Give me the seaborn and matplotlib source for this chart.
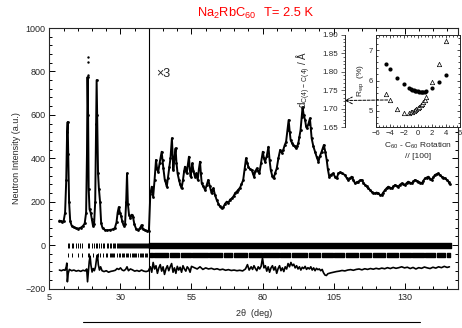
import numpy as np
import pandas as pd
import matplotlib
matplotlib.use("Agg")
import matplotlib.pyplot as plt
from matplotlib.ticker import MultipleLocator, FixedLocator
import seaborn as sns

# ---- values ----
# low angle part of the pattern, raw intensity
tt_lo = [8.5, 9.0, 9.5, 10.0, 10.5, 10.9, 11.2, 11.4, 11.6, 11.9, 12.3, 12.8, 13.5, 14.3,
         15.1, 16.0, 16.8, 17.4, 17.9, 18.2, 18.4, 18.6, 18.8, 19.1, 19.5, 19.9, 20.3, 20.7,
         21.1, 21.4, 21.6, 21.8, 22.1, 22.4, 22.8, 23.2, 23.7, 24.5, 25.4, 26.3, 27.2, 28.0,
         28.6, 29.0, 29.4, 29.8, 30.2, 30.6, 31.1, 31.6, 32.0, 32.3, 32.6, 33.0, 33.5, 34.0,
         34.4, 34.9, 35.5, 36.2, 36.9, 37.4, 37.9, 38.6, 39.3, 40.0]
int_lo = [113, 110, 106, 112, 150, 300, 520, 567, 420, 200, 110, 90, 82, 78,
          76, 80, 88, 100, 150, 420, 774, 600, 260, 165, 150, 120, 90, 95,
          200, 560, 760, 600, 330, 260, 200, 100, 78, 70, 68, 70, 72, 78,
          105, 150, 175, 150, 135, 110, 90, 95, 200, 330, 190, 140, 125, 140,
          130, 95, 75, 70, 78, 92, 75, 68, 66, 65]

# high angle part, already multiplied by 3 (as drawn)
tt_hi = [40.5, 41.0, 41.5, 42.0, 42.5, 42.9, 43.3, 43.8, 44.2, 44.5, 44.8, 45.1, 45.6, 46.0,
         46.3, 46.7, 47.2, 47.6, 48.1, 48.4, 48.6, 49.0, 49.4, 49.7, 50.1, 50.6, 51.0, 51.5,
         52.0, 52.4, 52.7, 53.0, 53.3, 53.7, 54.1, 54.4, 54.7, 55.0, 55.3, 55.7, 56.2, 56.7,
         57.2, 57.6, 58.0, 58.3, 58.6, 59.2, 59.8, 60.3, 60.9, 61.5, 62.1, 62.4, 62.7, 63.3,
         63.9, 64.5, 65.0, 65.6, 66.2, 66.8, 67.4, 68.0, 68.6, 69.2, 69.8, 70.4, 70.9, 71.5,
         72.1, 72.6, 73.2, 73.7, 74.2, 74.6, 75.0, 75.6, 76.2, 76.6, 77.0, 77.5, 78.0, 78.5,
         78.9, 79.5, 80.1, 80.5, 80.9, 81.5, 82.1, 82.5, 82.9, 83.4, 83.9, 84.4, 85.0, 85.6,
         86.2, 86.8, 87.3, 87.8, 88.3, 88.8, 89.2, 89.6, 89.9, 90.4, 90.8, 91.3, 91.8, 92.2,
         92.6, 93.0, 93.4, 93.8, 94.1, 94.5, 95.0, 95.3, 95.6, 96.2, 96.7, 97.0, 97.3, 97.9,
         98.5, 99.1, 99.7, 100.2, 100.8, 101.2, 101.6, 102.1, 102.6, 103.0, 103.5, 104.2, 104.9, 105.5,
         106.1, 106.7, 107.3, 108.1, 109.0, 109.6, 110.2, 110.8, 111.4, 112.0, 112.6, 113.2, 113.7, 114.3,
         114.9, 115.5, 116.1, 116.7, 117.2, 117.8, 118.4, 119.0, 119.6, 120.2, 120.7, 121.3, 121.9, 122.5,
         123.1, 123.7, 124.3, 124.9, 125.5, 126.1, 126.7, 127.2, 127.8, 128.4, 129.0, 129.6, 130.2, 130.7,
         131.3, 131.9, 132.5, 133.1, 133.7, 134.3, 134.9, 135.5, 136.1, 136.6, 137.2, 137.8, 138.4, 139.0,
         139.6, 140.1, 140.7, 141.3, 141.9, 142.5, 143.1, 143.7, 144.3, 144.9, 145.5, 145.9]
int_hi_x3 = [235, 269, 223, 300, 392, 350, 338, 380, 410, 430, 390, 353, 300, 285,
             269, 310, 361, 400, 492, 400, 346, 400, 446, 380, 330, 300, 280, 261,
             300, 340, 361, 345, 330, 370, 407, 350, 315, 350, 376, 340, 315, 330,
             300, 350, 384, 330, 284, 270, 253, 275, 300, 270, 238, 255, 261, 230,
             207, 190, 178, 169, 175, 190, 200, 195, 210, 215, 225, 240, 246, 255,
             265, 280, 300, 350, 400, 380, 361, 350, 346, 330, 315, 340, 353, 340,
             330, 380, 430, 400, 384, 410, 453, 390, 346, 320, 307, 330, 353, 400,
             438, 425, 438, 460, 476, 530, 576, 520, 484, 470, 461, 455, 446, 455,
             469, 500, 530, 590, 635, 600, 576, 550, 538, 560, 584, 540, 492, 455,
             430, 405, 384, 410, 430, 445, 461, 430, 392, 350, 315, 325, 330, 315,
             307, 330, 335, 330, 323, 310, 300, 308, 315, 300, 284, 290, 292, 298,
             300, 288, 277, 270, 261, 255, 246, 240, 238, 242, 238, 232, 230, 242,
             253, 262, 269, 265, 261, 270, 277, 272, 269, 278, 284, 280, 277, 285,
             292, 288, 284, 293, 300, 296, 292, 288, 284, 296, 307, 311, 315, 306,
             300, 312, 323, 327, 330, 322, 315, 311, 307, 300, 292, 280]

# stray observed points above the strongest peak
spike_tt = [18.4, 18.4, 18.4]
spike_int = [783, 843, 866]

# difference curve (drawn with its offset)
diff_tt = [8.5, 9.2, 9.9, 10.5, 10.9, 11.1, 11.3, 11.6, 12.0, 12.8, 13.6, 14.4, 15.2, 16.0,
           16.8, 17.6, 18.1, 18.4, 18.7, 19.0, 19.3, 19.6, 20.0, 20.4, 20.8, 21.2, 21.6, 21.9,
           22.2, 22.6, 23.0, 23.5, 24.2, 25.0, 25.8, 26.6, 27.4, 28.2, 28.8, 29.4, 30.0, 30.6,
           31.2, 31.8, 32.3, 32.8, 33.5, 34.2, 35.0, 35.8, 36.6, 37.4, 38.2, 39.0, 39.8,
           40.5, 41.0, 41.5, 42.0, 42.5, 43.0, 43.5, 44.0, 44.5, 45.0, 45.5, 46.0, 46.5, 47.0,
           47.5, 48.0, 48.5, 49.0, 49.5, 50.0, 50.5, 51.0, 51.5, 52.0, 52.5, 53.0, 53.5, 54.0,
           54.5, 55.0, 56.0, 57.0, 58.0, 59.0, 60.0, 61.0, 62.0, 63.0, 64.0, 65.0, 66.0, 67.0,
           68.0, 69.0, 70.0, 71.0, 72.0, 73.0, 74.0, 74.7, 75.3, 76.0, 76.5, 77.0, 77.5, 78.0,
           78.5, 79.0, 79.5, 80.0, 80.5, 81.0, 81.5, 82.0, 82.5, 83.0, 83.5, 84.0, 84.5, 85.0,
           85.5, 86.0, 86.5, 87.0, 87.5, 88.0, 88.5, 89.0, 89.5, 90.0, 90.5, 91.0, 91.5, 92.0,
           92.5, 93.0, 93.5, 94.0, 94.5, 95.0, 95.5, 96.0, 96.5, 97.0, 97.5, 98.0, 98.5, 99.0,
           99.5, 100.0, 100.5, 101.0, 101.5, 102.0, 102.5, 103.0, 104.0, 105.0, 106.0, 107.0, 108.0, 109.0,
           110.0, 111.0, 112.0, 113.0, 114.0, 115.0, 116.0, 117.0, 118.0, 119.0, 120.0, 121.0, 122.0, 123.0,
           124.0, 125.0, 126.0, 127.0, 128.0, 129.0, 130.0, 131.0, 132.0, 133.0, 134.0, 135.0, 136.0, 137.0,
           138.0, 139.0, 140.0, 141.0, 142.0, 143.0, 144.0, 145.0, 145.8]
diff_int = [-115, -118, -114, -116, -100, -83, -169, -130, -112, -118, -115, -120, -117, -121,
            -116, -119, -110, -169, -120, -75, -51, -92, -124, -108, -118, -100, -60, -45,
            -90, -115, -100, -118, -122, -118, -125, -121, -119, -116, -108, -112, -105, -115,
            -118, -112, -100, -118, -110, -114, -120, -117, -121, -115, -120, -122, -119,
            -100, -125, -80, -110, -95, -130, -105, -90, -120, -100, -135, -110, -95, -118,
            -100, -85, -125, -105, -130, -98, -115, -102, -125, -95, -110, -120, -100, -108,
            -125, -98, -104, -110, -100, -112, -105, -110, -107, -112, -109, -114, -111, -116,
            -113, -117, -115, -118, -116, -119, -110, -90, -115, -100, -112, -95, -108, -118,
            -100, -110, -98, -60, -105, -95, -120, -100, -125, -105, -95, -115, -100, -130,
            -108, -95, -118, -105, -122, -100, -110, -85, -100, -80, -95, -88, -105, -95,
            -110, -100, -115, -102, -108, -98, -112, -104, -110, -100, -115, -105, -118, -107,
            -113, -110, -118, -112, -128, -138, -140, -132, -128, -125, -122, -120, -117, -119,
            -115, -113, -116, -112, -110, -114, -109, -112, -108, -111, -107, -110, -106, -109,
            -104, -108, -103, -107, -104, -100, -105, -102, -108, -103, -110, -104, -107, -101,
            -105, -108, -102, -106, -100, -104, -98, -103, -100]

# reflection markers, phase 1 (single ticks, then a solid run)
refl1_tt = [11.4, 12.0, 12.8, 13.4, 14.3, 14.9, 15.7, 16.3, 18.4, 19.0, 19.9, 20.7, 21.3, 21.8,
            22.6, 23.1, 23.7, 24.3, 25.1, 25.7, 26.3, 26.8, 27.2, 27.7, 28.1, 28.6, 29.0, 29.3,
            29.7, 30.1, 30.5, 30.9, 31.2, 31.6, 32.0, 32.3, 32.7, 33.0, 33.4, 33.8, 34.1, 34.5,
            34.8, 35.2, 35.5, 35.9, 36.2, 36.6, 36.9, 37.3, 37.6, 38.0, 38.3, 38.7, 39.0, 39.4, 39.7]
refl1_runs = [(40.0, 106.2)]
# reflection markers, phase 2
refl2_tt = [11.4, 13.1, 14.9, 16.3, 18.4, 19.0, 20.4, 22.0, 22.8, 23.7, 24.9, 25.4, 26.3, 26.7,
            27.1, 27.5, 27.8, 28.7, 29.3, 29.8, 30.4, 31.0, 31.4, 31.8, 32.3, 32.7, 33.5, 33.9,
            34.3, 34.7, 35.1, 35.5, 36.3, 36.7, 37.1, 37.5, 37.9, 38.7, 39.1, 39.5, 39.9]
refl2_runs = [(40.3, 1.0), (41.8, 4.9), (47.3, 3.4), (51.3, 3.4), (55.3, 5.4), (61.3, 4.4),
              (66.3, 2.9), (69.8, 4.9), (75.3, 4.4), (80.3, 5.4), (86.3, 3.4), (90.3, 5.4),
              (96.3, 3.9), (100.8, 3.9), (105.3, 3.4), (109.3, 4.4), (114.3, 3.9), (118.8, 4.4),
              (123.8, 3.9), (128.3, 3.9), (132.8, 3.9), (137.3, 3.4), (141.3, 3.0), (144.8, 1.2)]

# inset: Rwp versus C60-C60 rotation
rot_circ = [-4.6, -4.0, -3.0, -2.0, -1.2, -1.0, -0.8, -0.6, -0.4, -0.2, 0.0, 0.2, 0.4,
            0.6, 0.8, 1.0, 1.2, 2.0, 3.0, 4.0]
rwp_circ = [6.54, 6.39, 6.10, 5.89, 5.76, 5.73, 5.70, 5.68, 5.66, 5.65, 5.64, 5.63, 5.63,
            5.63, 5.63, 5.63, 5.64, 5.75, 5.95, 6.17]
rot_tri = [-4.6, -4.0, -3.0, -2.0, -1.2, -1.0, -0.8, -0.6, -0.4, -0.2, 0.0, 0.2, 0.4,
           0.6, 0.8, 1.0, 1.2, 2.0, 3.0, 4.0]
rwp_tri = [5.55, 5.36, 5.07, 4.92, 4.94, 4.96, 4.98, 5.00, 5.03, 5.06, 5.10, 5.14, 5.19,
           5.24, 5.30, 5.37, 5.46, 5.94, 6.56, 7.29]

x_major = [5, 30, 55, 80, 105, 130]

sns.set_theme(style="ticks")
plt.rcParams['font.family'] = ['Liberation Sans', 'DejaVu Sans']
plt.rcParams['mathtext.fontset'] = 'custom'
plt.rcParams['mathtext.rm'] = 'Liberation Sans'
plt.rcParams['mathtext.it'] = 'Liberation Sans'
plt.rcParams['axes.linewidth'] = 0.8

fig = plt.figure(figsize=(4.62, 3.28), dpi=100)
ax = fig.add_axes([0.1071, 0.1204, 0.8853, 0.7942])

prof = pd.DataFrame({'tt': tt_lo + tt_hi, 'I': int_lo + int_hi_x3})
diff = pd.DataFrame({'tt': diff_tt, 'I': diff_int})

sns.lineplot(data=prof, x='tt', y='I', ax=ax, color='black', lw=1.4, marker='o',
             markersize=2.0, markeredgewidth=0, estimator=None)
sns.scatterplot(x=spike_tt, y=spike_int, ax=ax, color='black', s=3, linewidth=0)
sns.lineplot(data=diff, x='tt', y='I', ax=ax, color='black', lw=1.2, estimator=None)

ax.vlines(refl1_tt, -12, 10, color='black', lw=0.7)
ax.broken_barh(refl1_runs, (-12, 22), color='black')
ax.vlines(refl2_tt, -57, -38, color='black', lw=0.7)
ax.broken_barh(refl2_runs, (-57, 19), color='black')

ax.axvline(40, color='black', lw=0.8)
ax.text(42.6, 790, '×3', fontsize=9, va='center', ha='left')

ax.set_xlim(5, 149)
ax.set_ylim(-200, 1000)
ax.xaxis.set_major_locator(FixedLocator(x_major))
ax.xaxis.set_minor_locator(MultipleLocator(5))
ax.yaxis.set_major_locator(MultipleLocator(200))
ax.yaxis.set_minor_locator(MultipleLocator(40))
ax.tick_params(which='both', direction='in', top=True, right=True, labelsize=6.5,
               width=0.7, color='black', pad=3)
ax.tick_params(which='major', length=4)
ax.tick_params(which='minor', length=2.2)
ax.set_xlabel('2θ  (deg)', fontsize=6.5, labelpad=5)
ax.set_ylabel('Neutron Intensity (a.u.)', fontsize=6.5, labelpad=3)

# title in red
fig.text(197 / 462, 1 - 13 / 328, r'Na$_2$RbC$_{60}$', color='red', fontsize=9.3,
         ha='left', va='center')
fig.text(264 / 462, 1 - 13 / 328, 'T= 2.5 K', color='red', fontsize=9.3,
         ha='left', va='center')

# inset: Rwp vs rotation
ax_in = fig.add_axes([0.8132, 0.6128, 0.1825, 0.2805])
sns.scatterplot(x=rot_circ, y=rwp_circ, ax=ax_in, color='black', marker='o', s=9,
                linewidth=0, zorder=3)
sns.scatterplot(x=rot_tri, y=rwp_tri, ax=ax_in, marker='^', s=10, facecolor='white',
                edgecolor='black', linewidth=0.5, zorder=3)
ax_in.set_xlim(-6, 6)
ax_in.set_ylim(4.47, 7.5)
ax_in.xaxis.set_major_locator(MultipleLocator(2))
ax_in.xaxis.set_minor_locator(MultipleLocator(0.5))
ax_in.yaxis.set_major_locator(MultipleLocator(1))
ax_in.yaxis.set_minor_locator(MultipleLocator(0.2))
ax_in.tick_params(which='both', direction='in', top=True, right=True, labelsize=5.5,
                  width=0.5, color='black', pad=2)
ax_in.tick_params(which='major', length=2.5)
ax_in.tick_params(which='minor', length=1.3)
ax_in.set_xlabel('C$_{60}$ - C$_{60}$ Rotation\n// [100]', fontsize=6, labelpad=3,
                 linespacing=1.4)
ax_in.set_ylabel('R$_{wp}$  (%)', fontsize=6, labelpad=2)
for s in ax_in.spines.values():
    s.set_linewidth(0.7)

# d(C4-C4) scale to the left of the inset
ax_d = fig.add_axes([0.7457, 0.6128, 0.02, 0.2805], facecolor='none')
ax_d.set_ylim(1.65, 1.90)
ax_d.set_xticks([])
for side in ['top', 'right', 'bottom']:
    ax_d.spines[side].set_visible(False)
ax_d.spines['left'].set_linewidth(0.7)
ax_d.yaxis.set_major_locator(MultipleLocator(0.05))
ax_d.yaxis.set_minor_locator(MultipleLocator(0.01))
ax_d.yaxis.set_major_formatter(plt.FormatStrFormatter('%.2f'))
ax_d.tick_params(which='both', direction='out', labelsize=5.8, width=0.5, pad=1.5)
ax_d.tick_params(which='major', length=3)
ax_d.tick_params(which='minor', length=1.5)
fig.text(304 / 462, 1 - 79 / 328, r'd$_{\mathrm{C(4)\,-\,C(4)}}$ / Å', rotation=90,
         fontsize=7, ha='center', va='center')

# dashed arrow from the best triangle to the d scale
ax_in.annotate('', xy=(0, 1.722), xycoords=ax_d.get_yaxis_transform(),
               xytext=(-4.3, 5.36), textcoords='data',
               arrowprops=dict(arrowstyle='->', linestyle=(0, (3, 1.5)), lw=0.7,
                               color='black', shrinkA=0, shrinkB=0))

# stray rule under the x label
fig.add_artist(plt.Line2D([83 / 462, 420 / 462], [1 - 322 / 328, 1 - 322 / 328],
                          color='black', lw=0.8))

fig.savefig('out.png', dpi=100)
